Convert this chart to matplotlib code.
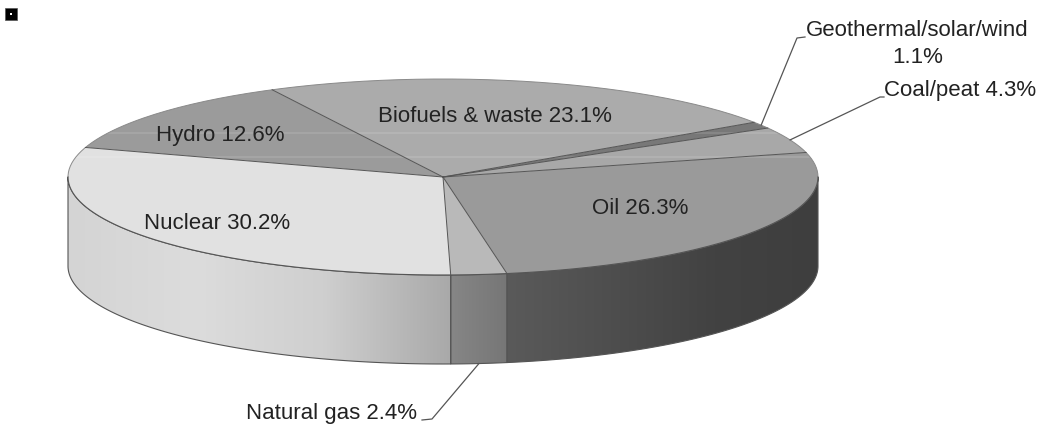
import numpy as np
import matplotlib
matplotlib.use("Agg")
import matplotlib.pyplot as plt
from matplotlib.colors import LinearSegmentedColormap
from matplotlib.patches import Ellipse, Polygon, Rectangle

# fuel shares, counter-clockwise from the coal slice
fuels = ["Coal/peat", "Geothermal/solar/wind", "Biofuels & waste", "Hydro",
         "Nuclear", "Natural gas", "Oil"]
shares = [4.3, 1.1, 23.1, 12.6, 30.2, 2.4, 26.3]

START_ANGLE = 14.5
CX, CY = 443, 177
RX, RY = 375, 98
DEPTH = 89

top_colors = {"Coal/peat": "#a8a8a8", "Geothermal/solar/wind": "#787878",
              "Biofuels & waste": "#ababab", "Hydro": "#9b9b9b",
              "Nuclear": "#e1e1e1", "Natural gas": "#b9b9b9", "Oil": "#9a9a9a"}
side_colors = {"Nuclear": ["#d4d4d4", "#dcdcdc", "#cfcfcf", "#a9a9a9"],
               "Natural gas": ["#868686", "#767676"],
               "Oil": ["#5a5a5a", "#4e4e4e", "#424242", "#3e3e3e"]}
EDGE = "#555555"
plt.rcParams["font.family"] = ["Liberation Sans", "DejaVu Sans"]
FONT = 16
TEXT = "#222222"


def rim(t1, t2, drop=0):
    t = np.radians(np.linspace(t1, t2, 200))
    return np.column_stack([CX + RX * np.cos(t), CY - RY * np.sin(t) + drop])


fig = plt.figure(figsize=(10.4, 4.25), dpi=100)
ax = fig.add_axes([0, 0, 1, 1])

# slice boundaries in degrees
edges = START_ANGLE + np.concatenate([[0], np.cumsum(shares)]) * 3.6
mids = {}

for name, a, b in zip(fuels, edges[:-1], edges[1:]):
    mids[name] = (a + b) / 2

    # the wall is only visible on the front half of the ellipse
    lo, hi = max(a, 180), min(b, 360)
    if name in side_colors and lo < hi:
        wall = np.vstack([rim(lo, hi), rim(hi, lo, DEPTH)])
        x0, x1 = wall[:, 0].min(), wall[:, 0].max()
        cmap = LinearSegmentedColormap.from_list(name, side_colors[name])
        im = ax.imshow(np.linspace(0, 1, 256)[None, :], cmap=cmap, aspect="auto",
                       extent=[x0, x1, CY + RY + DEPTH + 5, CY - 5], zorder=2)
        patch = Polygon(wall, closed=True, fc="none", ec=EDGE, lw=0.8, zorder=3)
        ax.add_patch(patch)
        im.set_clip_path(patch)

    # top face, spokes are drawn afterwards
    pts = np.vstack([[CX, CY], rim(a, b)])
    ax.add_patch(Polygon(pts, closed=True, fc=top_colors[name], ec="none", zorder=4))

# faint scan streaks across the top face
outline = Ellipse((CX, CY), 2 * RX, 2 * RY, fc="none", ec="none")
ax.add_patch(outline)
for y in (133, 157):
    streak, = ax.plot([CX - RX, CX + RX], [y, y], color="white", lw=1.2, alpha=0.13,
                      zorder=4.2)
    streak.set_clip_path(outline)

# rim of the top face and the spokes between slices
ax.plot(*rim(0, 180).T, color="#8a8a8a", lw=0.7, zorder=4.5)
ax.plot(*rim(180, 360).T, color=EDGE, lw=0.8, zorder=4.5)
for t in edges[:-1]:
    p = rim(t, t)[0]
    ax.plot([CX, p[0]], [CY, p[1]], color=EDGE, lw=0.7, zorder=4.5)

# slice labels on the top face
inside = {"Hydro": (220, 135), "Biofuels & waste": (495, 116),
          "Nuclear": (217, 223), "Oil": (640, 208)}
for name, (x, y) in inside.items():
    val = shares[fuels.index(name)]
    ax.text(x, y, f"{name} {val}%", ha="center", va="center", fontsize=FONT,
            color=TEXT, zorder=6)


def anchor(name, drop=0):
    t = np.radians(mids[name])
    return CX + RX * np.cos(t), CY - RY * np.sin(t) + drop


# leader lines for the outside labels
leaders = [("Geothermal/solar/wind", 0, [(797, 38), (805, 37)]),
           ("Coal/peat", 0, [(880, 97), (884, 97)]),
           ("Natural gas", DEPTH, [(432, 419), (422, 420)])]
for name, drop, bends in leaders:
    line = [anchor(name, drop)] + bends
    ax.plot(*zip(*line), color="#555555", lw=0.9, zorder=5)

geo = shares[fuels.index("Geothermal/solar/wind")]
coal = shares[fuels.index("Coal/peat")]
gas = shares[fuels.index("Natural gas")]
ax.text(917, 30, "Geothermal/solar/wind", ha="center", va="center",
        fontsize=FONT, color=TEXT)
ax.text(918, 57, f"{geo}%", ha="center", va="center", fontsize=FONT, color=TEXT)
ax.text(884, 90, f"Coal/peat {coal}%", ha="left", va="center", fontsize=FONT,
        color=TEXT)
ax.text(417, 413, f"Natural gas {gas}%", ha="right", va="center", fontsize=FONT,
        color=TEXT)

# small bullet in the corner
ax.add_patch(Rectangle((5, 8), 12, 12, fc="black", ec="#555555", lw=0.5))
ax.add_patch(Rectangle((10, 13), 2, 2, fc="white", ec="none"))

ax.set_xlim(0, 1040)
ax.set_ylim(425, 0)
ax.axis("off")
fig.savefig("out.png", dpi=100)
